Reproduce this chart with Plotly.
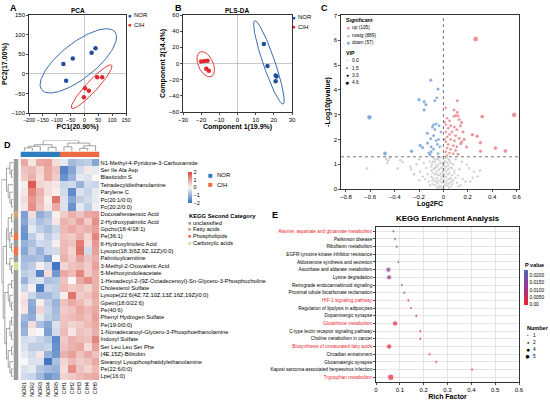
import numpy as np
import plotly.graph_objects as go

W, H = 550, 401
FONT = "Liberation Sans, Arial, sans-serif"

NOR_C = "#1F4E9C"
CIH_C = "#E0282E"

# ---------------- A: PCA scores ----------------
pca_nor_x = [-76, -42, 26, 40, -66]
pca_nor_y = [25, 39, 54, 65, -18]
pca_cih_x = [46, 64, 2, 16, -2]
pca_cih_y = [-9, -9, -37, -43, -60]
# ellipse = centre, half major axis, half minor axis (data units)
pca_ell_nor = [(-22, 33), (132, 74), (-40, 35)]
pca_ell_cih = [(26, -33), (72, 55), (-14.6, 9.5)]

# ---------------- B: PLS-DA scores ----------------
pls_nor_x = [14.5, 16.5, 21, 21, 21.5]
pls_nor_y = [24, -3, -15, -22, -16]
pls_cih_x = [-20, -18.2, -16.5, -17.2, -15.8]
pls_cih_y = [2.5, 3, 3.5, -6.5, -9]
pls_ell_nor = [(17.3, 1.4), (7.8, -51.5), (3.1, 2.4)]
pls_ell_cih = [(-17.5, -0.9), (3.1, -15.1), (3.7, 3.9)]

# ---------------- C: volcano ----------------
up_x = [0.264, 0.58, 0.318, 0.114, 0.019, 0.087, 0.114, 0.10, 0.085, 0.12, 0.149, 0.13, 0.03, 0.05,
        0.02, 0.06, 0.04, 0.09, 0.11, 0.02, 0.07, 0.05, 0.10, 0.03, 0.13, 0.06, 0.09, 0.02, 0.15,
        0.04, 0.08, 0.11, 0.03, 0.06, 0.10, 0.02, 0.05, 0.08, 0.12, 0.03, 0.237, 0.277, 0.304,
        0.19, 0.427, 0.508, 0.304, 0.141, 0.16, 0.17, 0.14, 0.01, 0.01]
up_y = [6.05, 2.99, 2.92, 3.56, 3.27, 3.19, 3.09, 2.96, 2.93, 2.95, 2.68, 2.80, 2.85, 2.75, 2.60,
        2.55, 2.45, 2.50, 2.40, 2.30, 2.30, 2.20, 2.15, 2.10, 2.05, 2.00, 1.95, 1.90, 1.90, 1.80,
        1.75, 1.70, 1.65, 1.60, 1.55, 1.50, 1.45, 1.42, 1.40, 1.35, 2.19, 2.13, 1.87, 1.69, 1.65,
        1.53, 1.52, 1.83, 2.30, 2.00, 2.55, 2.00, 2.70]
up_vip = [4.6, 4.2, 3.0, 1.8, 1.2, 1.6, 1.7, 1.6, 1.5, 1.7, 1.9, 1.6, 1.3, 1.4, 1.2, 1.4, 1.3, 1.5,
          1.6, 1.2, 1.4, 1.3, 1.5, 1.2, 1.6, 1.3, 1.5, 1.2, 1.7, 1.3, 1.4, 1.5, 1.2, 1.3, 1.5, 1.1,
          1.3, 1.4, 1.5, 1.2, 2.3, 2.4, 2.4, 2.0, 2.8, 3.0, 2.4, 1.8, 1.9, 1.9, 1.8, 1.1, 1.1]

down_x = [-0.607, -0.104, -0.044, -0.20, -0.158, -0.144, -0.158, -0.055, -0.071, -0.082, -0.09,
          -0.06, -0.035, -0.07, -0.131, -0.104, -0.08, -0.06, -0.04, -0.05, -0.191, -0.171, -0.261,
          -0.479, -0.12, -0.10, -0.11, -0.044, -0.08, -0.13, -0.03, -0.10, -0.02]
down_y = [2.89, 4.39, 4.03, 3.60, 3.52, 3.40, 3.19, 3.67, 3.56, 2.59, 2.50, 2.62, 2.55, 2.40, 2.25,
          2.03, 2.15, 1.95, 2.00, 1.80, 1.76, 1.67, 1.52, 1.43, 1.45, 1.50, 1.38, 1.43, 1.60, 1.85,
          1.70, 1.70, 2.30]
down_vip = [4.2, 2.0, 1.6, 2.2, 2.0, 1.9, 2.0, 1.5, 1.6, 1.6, 1.6, 1.4, 1.3, 1.5, 1.8, 1.7, 1.5,
            1.4, 1.3, 1.4, 2.0, 1.9, 2.3, 2.9, 1.6, 1.6, 1.6, 1.3, 1.5, 1.7, 1.2, 1.6, 1.1]

# not significant: (log2FC, -log10 p, VIP)
nosig = [
    (-0.626, 0.83, 1.0), (-0.47, 1.22, 1.1), (-0.455, 1.15, 1.0), (-0.44, 1.25, 1.0), (-0.46, 1.05, 0.9),
    (-0.354, 1.16, 0.9), (-0.335, 1.09, 0.9), (-0.376, 0.83, 0.9), (-0.27, 0.90, 0.8), (-0.265, 0.80, 0.8),
    (-0.20, 1.20, 0.8), (-0.22, 1.00, 0.8), (-0.19, 0.70, 0.7), (-0.24, 0.60, 0.8), (-0.17, 0.50, 0.7),
    (-0.20, 0.35, 0.7), (-0.15, 0.40, 0.6), (-0.14, 0.85, 0.7), (-0.16, 1.05, 0.7), (-0.12, 0.30, 0.6),
    (-0.13, 0.60, 0.6), (-0.11, 1.10, 0.6), (-0.10, 0.90, 0.6), (-0.09, 0.20, 0.5), (-0.10, 0.50, 0.6),
    (0.19, 0.98, 0.8), (0.21, 0.85, 0.8), (0.25, 0.70, 0.8), (0.28, 0.50, 0.8), (0.16, 0.40, 0.7),
    (0.18, 0.30, 0.7), (0.13, 0.80, 0.7), (0.12, 0.55, 0.6), (0.15, 1.10, 0.7), (0.10, 1.20, 0.6),
    (0.11, 0.25, 0.6), (0.22, 0.30, 0.8), (0.09, 0.65, 0.6), (0.14, 0.15, 0.6), (0.30, 0.75, 0.9),
    (0.24, 0.45, 0.8),
    (-0.08, 1.25, 0.7), (-0.07, 1.10, 0.6), (-0.06, 0.95, 0.6), (-0.05, 1.20, 0.6), (-0.04, 1.00, 0.5),
    (-0.03, 1.15, 0.5), (-0.02, 1.28, 0.5), (-0.01, 1.05, 0.5), (0.00, 1.20, 0.4), (0.01, 0.90, 0.4),
    (0.02, 1.10, 0.5), (0.03, 1.25, 0.5), (0.04, 0.95, 0.5), (0.05, 1.15, 0.6), (0.06, 1.05, 0.6),
    (0.07, 0.85, 0.6), (0.08, 1.00, 0.7), (-0.08, 0.80, 0.6), (-0.07, 0.60, 0.6), (-0.06, 0.70, 0.5),
    (-0.05, 0.45, 0.5), (-0.04, 0.75, 0.5), (-0.03, 0.55, 0.4), (-0.02, 0.85, 0.4), (-0.01, 0.65, 0.4),
    (0.00, 0.80, 0.4), (0.01, 0.50, 0.4), (0.02, 0.70, 0.4), (0.03, 0.60, 0.5), (0.04, 0.40, 0.5),
    (0.05, 0.65, 0.5), (0.06, 0.45, 0.5), (0.07, 0.55, 0.6), (0.08, 0.35, 0.6), (-0.07, 0.30, 0.5),
    (-0.06, 0.20, 0.5), (-0.05, 0.10, 0.4), (-0.04, 0.35, 0.4), (-0.03, 0.15, 0.4), (-0.02, 0.40, 0.3),
    (-0.01, 0.25, 0.3), (0.00, 0.05, 0.3), (0.01, 0.30, 0.3), (0.02, 0.12, 0.3), (0.03, 0.35, 0.4),
    (0.04, 0.20, 0.4), (0.05, 0.25, 0.4), (0.06, 0.10, 0.5), (-0.015, 0.00, 0.3), (0.005, 0.15, 0.3),
    (0.015, 0.45, 0.3), (-0.025, 0.62, 0.4), (0.025, 0.90, 0.4), (-0.045, 0.90, 0.5), (-0.035, 1.30, 0.5),
    (0.035, 1.05, 0.5), (0.00, 0.55, 0.3), (0.00, 0.35, 0.3), (-0.01, 0.95, 0.4), (0.01, 1.10, 0.4),
    (-0.05, 0.05, 0.4), (0.045, 0.05, 0.4), (-0.09, 0.65, 0.6), (0.09, 0.75, 0.6), (-0.095, 1.00, 0.7),
    (0.10, 0.45, 0.6), (-0.11, 0.15, 0.6), (0.12, 0.10, 0.6),
    (-0.085, 0.45, 0.5), (-0.075, 0.85, 0.5), (-0.065, 0.40, 0.5), (-0.055, 0.60, 0.4), (-0.045, 0.25, 0.4),
    (-0.035, 0.80, 0.4), (-0.025, 1.05, 0.4), (-0.015, 0.50, 0.3), (-0.005, 0.70, 0.3), (0.005, 1.00, 0.3),
    (0.015, 0.20, 0.3), (0.025, 0.50, 0.3), (0.035, 0.75, 0.4), (0.045, 1.20, 0.4), (0.055, 0.85, 0.5),
    (0.065, 0.30, 0.5), (-0.09, 0.35, 0.6), (-0.085, 1.10, 0.6), (-0.075, 0.15, 0.5), (-0.065, 1.20, 0.5),
    (-0.055, 0.30, 0.4), (-0.045, 0.55, 0.4), (-0.035, 0.05, 0.4), (-0.025, 0.30, 0.3), (-0.015, 0.85, 0.3),
    (-0.005, 0.45, 0.3), (0.005, 0.60, 0.3), (0.015, 0.80, 0.3), (0.025, 0.25, 0.3), (0.035, 0.15, 0.4),
    (0.045, 0.60, 0.4), (0.055, 0.40, 0.5), (-0.02, 0.10, 0.3), (0.00, 0.95, 0.3), (-0.04, 1.25, 0.5),
    (0.02, 1.25, 0.4), (-0.06, 0.85, 0.5), (0.04, 0.80, 0.5), (-0.10, 0.75, 0.6), (0.07, 0.20, 0.6),
]
P_CUT = 1.3  # -log10(0.05)
vip_legend = [0.0, 1.5, 3.0, 4.6]
sig_counts = [105, 889, 57]

UP_C, NS_C, DOWN_C = "#E0656B", "#B5B5B5", "#4A87CB"

# ---------------- D: heatmap ----------------
samples = ["NOR1", "NOR2", "NOR3", "NOR4", "NOR5", "CIH1", "CIH2", "CIH3", "CIH4", "CIH5"]
metabolites = [
    "N1-Methyl-4-Pyridone-3-Carboxamide", "Ser Ile Ala Asp", "Blasticidin S",
    "Tetradecyldiethanolamine", "Parylene C", "Pc(20:1/0:0)", "Pc(20:2/0:0)",
    "Docosahexaenoic Acid", "2-Hydroxypalmitic Acid", "Gpcho(18:4/18:1)", "Pe(36:1)",
    "8-Hydroxylinoleic Acid", "Lysopc(18:3(6Z,9Z,12Z)/0:0)", "Palmitoylcarnitine",
    "3-Methyl-2-Oxovaleric Acid", "5-Methoxyindoleacetate",
    "1-Hexadecyl-2-(9Z-Octadecenoyl)-Sn-Glycero-3-Phosphocholine", "Cholesterol Sulfate",
    "Lysope(22:6(4Z,7Z,10Z,13Z,16Z,19Z)/0:0)", "Gpetn(18:0/22:6)", "Pe(40:6)",
    "Phenyl Hydrogen Sulfate", "Pe(19:0/0:0)", "1-Nonadecanoyl-Glycero-3-Phosphoethanolamine",
    "Indoxyl Sulfate", "Ser Leu Leu Ser Phe", "(4E,15Z)-Bilirubin",
    "Stearoyl Lysophosphatidylethanolamine", "Pe(22:6/0:0)", "Lpe(16:0)",
]
class_names = ["unclassified", "Fatty acids", "Phospholipids", "Carboxylic acids"]
class_colors = ["#9C9C9C", "#CDA67A", "#F07442", "#D3E29E"]
kegg_class = [0, 0, 0, 0, 0, 0, 0, 1, 0, 0, 2, 0, 2, 0, 3, 0, 0, 0, 0, 0, 0, 0, 0, 0, 0, 0, 0, 0, 0, 0]
zscore = [
    [0.9, 0.2, 0.9, 1.0, 0.3, -0.2, -0.9, -0.7, -0.6, -1.2],
    [0.6, 0.7, 0.4, 0.9, 0.6, -1.7, -1.2, -0.4, 0.2, -0.2],
    [0.5, 0.8, 0.3, 0.9, 0.5, -1.5, -1.0, -0.2, -0.3, 0.0],
    [0.1, 1.8, 0.4, 0.3, 0.2, -0.5, -0.4, -1.0, -0.4, -0.5],
    [0.2, 1.3, 0.8, 0.3, 0.1, -0.4, -1.6, -0.3, -0.5, -0.2],
    [0.3, 1.1, 0.7, 0.1, 1.5, -0.3, -1.2, -0.6, -0.4, -0.2],
    [0.2, 1.2, 0.6, 0.2, 0.9, -0.3, -1.5, -0.2, -0.6, -0.1],
    [-1.3, 0.3, -1.1, -0.8, 0.1, 0.5, 0.8, 0.6, 0.9, 1.0],
    [-1.2, -0.4, -0.8, -0.6, 0.2, 0.8, 0.6, 1.0, 0.5, 1.2],
    [-1.4, -0.2, -0.6, -0.8, -0.5, 0.7, 0.9, 0.7, 0.8, 1.0],
    [-1.5, -0.6, -0.2, -0.6, -0.3, 0.6, 0.5, 0.8, 0.4, 1.3],
    [-1.0, -0.8, -0.4, -0.5, 0.1, 0.7, 0.6, 1.4, 0.3, 1.1],
    [-1.2, -0.6, -1.0, -0.5, -0.4, 0.7, 0.4, 1.5, -0.4, 1.0],
    [-0.9, -0.9, -0.8, -1.3, 0.0, 0.8, 0.5, 1.0, 0.6, 0.8],
    [-0.8, -0.6, 0.1, -0.4, -1.9, 0.4, 0.6, 0.7, 0.5, 1.0],
    [-0.6, -0.5, -1.7, 0.3, -1.4, 0.9, 0.7, 1.3, 0.5, 0.8],
    [-1.0, -0.4, -0.3, -0.8, -0.7, 0.6, 0.0, 0.9, 1.2, 0.8],
    [-0.5, 0.1, -1.8, -0.5, -0.6, 0.7, 0.5, 0.6, 0.4, 0.8],
    [0.2, -0.5, -0.9, -0.9, -0.6, 0.1, 1.5, 0.5, 0.6, 0.9],
    [0.3, -1.1, 0.1, -0.6, -1.0, 0.6, 0.9, 0.7, 0.4, 0.8],
    [0.2, -1.2, 0.4, -0.5, -0.9, 0.5, 0.6, 0.9, 0.7, 0.9],
    [-0.9, -1.1, -0.2, -0.6, -0.8, 0.6, 0.7, 0.8, 0.6, 1.0],
    [-1.1, 0.3, -0.8, -1.2, -0.3, 0.6, 0.4, 0.5, 0.7, 0.9],
    [-1.0, 0.1, 0.0, -1.3, -0.4, 0.7, 0.2, 0.6, 0.5, 0.8],
    [-0.4, -0.3, -0.5, -0.7, -1.6, 0.5, 0.8, 0.7, 0.6, 1.3],
    [-0.3, -0.6, -0.6, -0.5, -1.5, 0.6, 0.8, 0.9, 0.3, 1.0],
    [-0.2, -0.4, 0.2, -1.0, -1.4, 0.8, 1.0, 0.6, 0.9, 0.6],
    [0.0, -0.3, -0.3, -1.9, -0.8, 0.4, 0.7, 0.5, 0.6, 0.9],
    [-0.3, -0.2, -0.7, -0.9, -1.0, 0.3, 1.2, 0.6, 0.4, 0.7],
    [-0.4, -0.5, -0.9, -1.4, -1.2, 0.4, 0.5, 0.7, 0.8, 0.9],
]
# clustering trees (leaf = row / column index, optional 3rd item = merge height)
col_tree = ((((0, 1, 0.3), 2, 0.45), (3, 4, 0.35), 0.6), ((5, 6, 0.4), ((7, 8, 0.25), 9, 0.5), 0.75), 1.0)
row_tree = (((0, (1, 2)), (3, (4, (5, 6)))),
            ((((7, 8), ((9, 10), (11, 12))), (13, (14, 15))),
             (((16, 17), (18, (19, 20))), (((21, 22), (23, 24)), ((25, 26), (27, (28, 29)))))))

# ---------------- E: KEGG enrichment ----------------
pathways = [
    "Alanine, aspartate and glutamate metabolism", "Parkinson disease", "Riboflavin metabolism",
    "EGFR tyrosine kinase inhibitor resistance", "Aldosterone synthesis and secretion",
    "Ascorbate and aldarate metabolism", "Lysine degradation", "Retrograde endocannabinoid signaling",
    "Proximal tubule bicarbonate reclamation", "HIF-1 signaling pathway",
    "Regulation of lipolysis in adipocytes", "Dopaminergic synapse", "Glutathione metabolism",
    "C-type lectin receptor signaling pathway", "Choline metabolism in cancer",
    "Biosynthesis of unsaturated fatty acids", "Circadian entrainment", "Glutamatergic synapse",
    "Kaposi sarcoma-associated herpesvirus infection", "Tryptophan metabolism",
]
rich_factor = [0.073, 0.080, 0.087, 0.50, 0.094, 0.052, 0.055, 0.108, 0.119, 0.136, 0.146, 0.169,
               0.080, 0.186, 0.186, 0.055, 0.225, 0.253, 0.403, 0.062]
p_value = [0.021, 0.020, 0.018, 0.019, 0.016, 0.014, 0.013, 0.012, 0.008, 0.006, 0.004, 0.003,
           0.002, 0.002, 0.002, 0.001, 0.002, 0.002, 0.002, 0.0005]
hit_number = [2, 2, 2, 1, 2, 4, 4, 2, 2, 2, 2, 2, 4, 2, 2, 4, 2, 2, 2, 5]
highlighted = ["Alanine, aspartate and glutamate metabolism", "HIF-1 signaling pathway",
               "Glutathione metabolism", "Biosynthesis of unsaturated fatty acids", "Tryptophan metabolism"]
number_legend = [1, 2, 4, 5]


# ---------------- helpers ----------------
def dom_x(a, b):
    return [a / W, b / W]


def dom_y(top, bottom):
    return [1 - bottom / H, 1 - top / H]


def ellipse(c, u, v, n=120):
    t = np.linspace(0, 2 * np.pi, n)
    return (c[0] + u[0] * np.cos(t) + v[0] * np.sin(t),
            c[1] + u[1] * np.cos(t) + v[1] * np.sin(t))


def dendro(tree):
    pos, hgt = [], []

    def walk(node):
        if isinstance(node, int):
            return float(node), 0.0
        (p1, h1), (p2, h2) = walk(node[0]), walk(node[1])
        h = node[2] if len(node) > 2 else max(h1, h2) + 1
        pos.extend([p1, p1, p2, p2, None])
        hgt.extend([h1, h, h, h2, None])
        return (p1 + p2) / 2, h

    _, top = walk(tree)
    return pos, hgt, top


def vip_size(v):
    return 2.0 + 0.65 * v


def num_size(n):
    return 0.8 + 1.15 * n


ann = []


def label(x, y, s, size=6, bold=False, color="black", xanchor="left", angle=0):
    ann.append(dict(x=x / W, y=1 - y / H, xref="paper", yref="paper", showarrow=False,
                    text=f"<b>{s}</b>" if bold else s, textangle=angle,
                    font=dict(size=size, color=color, family=FONT),
                    xanchor=xanchor, yanchor="middle", borderpad=0))


def frame(**kw):
    d = dict(showline=True, linecolor="black", linewidth=0.8, mirror=True, ticks="outside",
             ticklen=2, tickwidth=0.7, tickcolor="black", showgrid=False, zeroline=False,
             tickfont=dict(size=6, color="black"), title_font=dict(size=7, color="black"),
             tickangle=0)
    d.update(kw)
    return d


fig = go.Figure()

# ---- A
for xs, ys, c in [(pca_nor_x, pca_nor_y, NOR_C), (pca_cih_x, pca_cih_y, CIH_C)]:
    fig.add_trace(go.Scatter(x=xs, y=ys, mode="markers", marker=dict(size=4.5, color=c),
                             xaxis="x", yaxis="y", showlegend=False))
for e, c in [(pca_ell_nor, "#3B6BB0"), (pca_ell_cih, "#E53B3B")]:
    ex, ey = ellipse(*e)
    fig.add_trace(go.Scatter(x=ex, y=ey, mode="lines", line=dict(color=c, width=1),
                             xaxis="x", yaxis="y", showlegend=False))

# ---- B
for xs, ys, c in [(pls_nor_x, pls_nor_y, NOR_C), (pls_cih_x, pls_cih_y, CIH_C)]:
    fig.add_trace(go.Scatter(x=xs, y=ys, mode="markers", marker=dict(size=4.5, color=c),
                             xaxis="x2", yaxis="y2", showlegend=False))
for e, c in [(pls_ell_nor, "#3B6BB0"), (pls_ell_cih, "#E53B3B")]:
    ex, ey = ellipse(*e)
    fig.add_trace(go.Scatter(x=ex, y=ey, mode="lines", line=dict(color=c, width=1),
                             xaxis="x2", yaxis="y2", showlegend=False))

# ---- C
ns_x = [p[0] for p in nosig]
ns_y = [p[1] for p in nosig]
ns_v = [p[2] for p in nosig]
for xs, ys, vs, c in [(ns_x, ns_y, ns_v, NS_C), (up_x, up_y, up_vip, UP_C), (down_x, down_y, down_vip, DOWN_C)]:
    fig.add_trace(go.Scatter(x=xs, y=ys, mode="markers",
                             marker=dict(size=[vip_size(v) for v in vs], color=c,
                                         line=dict(width=0.3, color="white")),
                             xaxis="x3", yaxis="y3", showlegend=False))
fig.add_shape(type="line", xref="x3 domain", yref="y3", x0=0, x1=1, y0=P_CUT, y1=P_CUT,
              line=dict(color="#555555", width=0.8, dash="dot"))
fig.add_shape(type="line", xref="x3", yref="y3 domain", x0=0, x1=0, y0=0, y1=1,
              line=dict(color="#555555", width=0.8, dash="dot"))

# ---- D
fig.add_trace(go.Heatmap(z=zscore, x=samples, y=metabolites, zmin=-2, zmax=2,
                         colorscale=[[0, "#3A70BE"], [0.5, "#F8F6F6"], [1, "#D84A3E"]],
                         xaxis="x4", yaxis="y4",
                         colorbar=dict(x=188 / W, xanchor="left", y=1 - 172 / H, yanchor="top",
                                       len=31 / H, lenmode="fraction", thickness=4,
                                       outlinewidth=0, ticks="", tickvals=[2, 1, 0, -1, -2],
                                       tickfont=dict(size=5.5, color="black", family=FONT), xpad=0, ypad=0)))
fig.add_trace(go.Heatmap(z=[[0, 0, 0, 0, 0, 1, 1, 1, 1, 1]], x=samples, y=["group"], zmin=0, zmax=1,
                         colorscale=[[0, "#2E7DC0"], [0.5, "#2E7DC0"], [0.5, "#EE6A43"], [1, "#EE6A43"]],
                         showscale=False, xaxis="x6", yaxis="y6"))
cs = []
for i, c in enumerate(class_colors):
    cs += [[i / 4, c], [(i + 1) / 4, c]]
fig.add_trace(go.Heatmap(z=[[k] for k in kegg_class], x=["class"], y=metabolites, zmin=0, zmax=3,
                         colorscale=cs, showscale=False, xaxis="x7", yaxis="y7"))
cp, ch, ctop = dendro(col_tree)
fig.add_trace(go.Scatter(x=cp, y=ch, mode="lines", line=dict(color="#7A7A7A", width=0.7),
                         xaxis="x5", yaxis="y5", showlegend=False))
rp, rh, rtop = dendro(row_tree)
fig.add_trace(go.Scatter(x=rh, y=rp, mode="lines", line=dict(color="#7A7A7A", width=0.7),
                         xaxis="x8", yaxis="y8", showlegend=False))

# ---- E
fig.add_trace(go.Scatter(
    x=rich_factor, y=pathways, mode="markers", xaxis="x9", yaxis="y9", showlegend=False,
    marker=dict(size=[num_size(n) for n in hit_number], color=p_value, cmin=-0.0003, cmax=0.0236,
                colorscale=[[0, "#EC2430"], [0.5, "#9A3590"], [1, "#5266B4"]],
                colorbar=dict(x=524 / W, xanchor="left", y=1 - 270 / H, yanchor="top", len=35 / H,
                              lenmode="fraction", thickness=4, outlinewidth=0, ticks="",
                              tickvals=[0.0, 0.005, 0.01, 0.015, 0.02],
                              ticktext=["0.00", "0.0050", "0.0100", "0.0150", "0.0200"],
                              tickfont=dict(size=4.8, color="black", family=FONT), xpad=0, ypad=0))))

path_text = [f'<span style="color:#E8242C">{p}</span>' if p in highlighted else p for p in pathways]

layout_axes = dict(
    # A
    xaxis=frame(domain=dom_x(29, 126), anchor="y", range=[-200, 150], dtick=50,
                zeroline=True, zerolinecolor="#BBBBBB", zerolinewidth=0.8,
                tickfont=dict(size=5.4, color="black"),
                title=dict(text="<b>PC1(20.90%)</b>", standoff=1)),
    yaxis=frame(domain=dom_y(15, 113), anchor="x", range=[-100, 150], dtick=50,
                zeroline=True, zerolinecolor="#BBBBBB", zerolinewidth=0.8,
                title=dict(text="<b>PC2(17.00%)</b>", standoff=2)),
    # B
    xaxis2=frame(domain=dom_x(183, 292), anchor="y2", range=[-30, 30], dtick=10,
                 zeroline=True, zerolinecolor="#BBBBBB", zerolinewidth=0.8,
                 title=dict(text="<b>Component 1(19.9%)</b>", standoff=1)),
    yaxis2=frame(domain=dom_y(15, 112), anchor="x2", range=[-60, 60], dtick=20,
                 zeroline=True, zerolinecolor="#BBBBBB", zerolinewidth=0.8,
                 title=dict(text="<b>Component 2(14.4%)</b>", standoff=2)),
    # C
    xaxis3=frame(domain=dom_x(341, 519), anchor="y3", range=[-0.84, 0.62],
                 tickvals=[-0.8, -0.6, -0.4, -0.2, 0, 0.2, 0.4, 0.6],
                 title=dict(text="<b>Log2FC</b>", standoff=1)),
    yaxis3=frame(domain=dom_y(15, 189), anchor="x3", range=[0, 7.02], dtick=1,
                 title=dict(text="<b>-Log10(pvalue)</b>", standoff=2)),
    # D heatmap
    xaxis4=dict(domain=dom_x(20.5, 99.5), anchor="y4", showline=False, ticks="", tickangle=-90,
                tickfont=dict(size=5.3, color="black")),
    yaxis4=dict(domain=dom_y(159, 380), anchor="x4", side="right", showline=False, ticks="",
                range=[29.5, -0.5], tickfont=dict(size=5.75, color="black")),
    xaxis5=dict(domain=dom_x(20.5, 99.5), anchor="y5", range=[-0.5, 9.5], visible=False),
    yaxis5=dict(domain=dom_y(140.5, 151), anchor="x5", range=[0, ctop], visible=False),
    xaxis6=dict(domain=dom_x(20.5, 99.5), anchor="y6", visible=False),
    yaxis6=dict(domain=dom_y(151.5, 157), anchor="x6", visible=False),
    xaxis7=dict(domain=dom_x(13.5, 18.5), anchor="y7", visible=False),
    yaxis7=dict(domain=dom_y(159, 380), anchor="x7", range=[29.5, -0.5], visible=False),
    xaxis8=dict(domain=dom_x(1.5, 13.2), anchor="y8", range=[rtop, 0], visible=False),
    yaxis8=dict(domain=dom_y(159, 380), anchor="x8", range=[29.5, -0.5], visible=False),
    # E
    xaxis9=frame(domain=dom_x(376, 519), anchor="y9", range=[0, 0.6], dtick=0.1,
                 showgrid=True, gridcolor="#DCDCDC", gridwidth=0.7,
                 title=dict(text="<b>Rich Factor</b>", standoff=1)),
    yaxis9=frame(domain=dom_y(227, 382), anchor="x9", type="category", categoryorder="array",
                 categoryarray=pathways, range=[19.62, -0.55], tickvals=pathways, ticktext=path_text,
                 showgrid=True, gridcolor="#DCDCDC", gridwidth=0.7, tickfont=dict(size=4.7, color="black")),
)

# ---------------- text ----------------
label(9, 8, "A", 9, True)
label(174, 8, "B", 9, True)
label(320, 8, "C", 9, True)
label(3, 145, "D", 9, True)
label(271, 215, "E", 9, True)
label(77.5, 10, "PCA", 6.5, True, xanchor="center")
label(237.5, 10, "PLS-DA", 6.5, True, xanchor="center")
label(448, 218, "KEGG Enrichment Analysis", 7.9, True, xanchor="center")

# A / B legends
for x0, y0 in [(130, 15), (294, 17)]:
    label(x0, y0, "●", 6.5, color=NOR_C, xanchor="center")
    label(x0 + 3, y0, "NOR", 6)
    label(x0, y0 + 9.5, "●", 6.5, color=CIH_C, xanchor="center")
    label(x0 + 3, y0 + 9.5, "CIH", 6)

# C legend
label(345, 20, "Significant", 5.2, True)
for i, (name, c) in enumerate([("up", "#EE9EA1"), ("nosig", "#C8C8C8"), ("down", "#7FAADF")]):
    yy = 27.7 + 7.5 * i
    label(348, yy, "●", 7, color=c, xanchor="center")
    label(351, yy, f"{name} ({sig_counts[i]})", 4.8)
label(345, 53, "VIP", 5.2, True)
for i, v in enumerate(vip_legend):
    yy = 61 + 7.2 * i
    label(347.3, yy, "●", 1.5 + 1.2 * v, color="black", xanchor="center")
    label(350.5, yy, f"{v:.1f}", 4.8)

# D legends
label(210.5, 175, "■", 8, color="#2E7DC0", xanchor="center")
label(216, 175, "NOR", 6)
label(210.5, 184.5, "■", 8, color="#EE6A43", xanchor="center")
label(216, 184.5, "CIH", 6)
label(187.5, 216, "KEGG Second Category", 5.8, True)
for i, (nm, c) in enumerate(zip(class_names, class_colors)):
    yy = 222.7 + 6.6 * i
    label(189.8, yy, "■", 5.5, color=c, xanchor="center")
    label(192.3, yy, nm, 5.5)

# E legends
label(523.5, 264.5, "P value", 5.5, True)
label(525.5, 328, "Number", 5.5, True)
for i, n in enumerate(number_legend):
    yy = 335 + 7 * i
    label(527.5, yy, "●", num_size(n) * 1.25, xanchor="center")
    label(532, yy, str(n), 4.8)

fig.update_layout(
    width=W, height=H, margin=dict(l=0, r=0, t=0, b=0), template="none",
    paper_bgcolor="white", plot_bgcolor="white", showlegend=False,
    font=dict(family=FONT, size=6, color="black"),
    annotations=ann, **layout_axes,
)

fig.write_html("out.html", config={"displayModeBar": False, "staticPlot": True},
               post_script="document.body.style.margin='0';document.body.style.overflow='hidden';")
